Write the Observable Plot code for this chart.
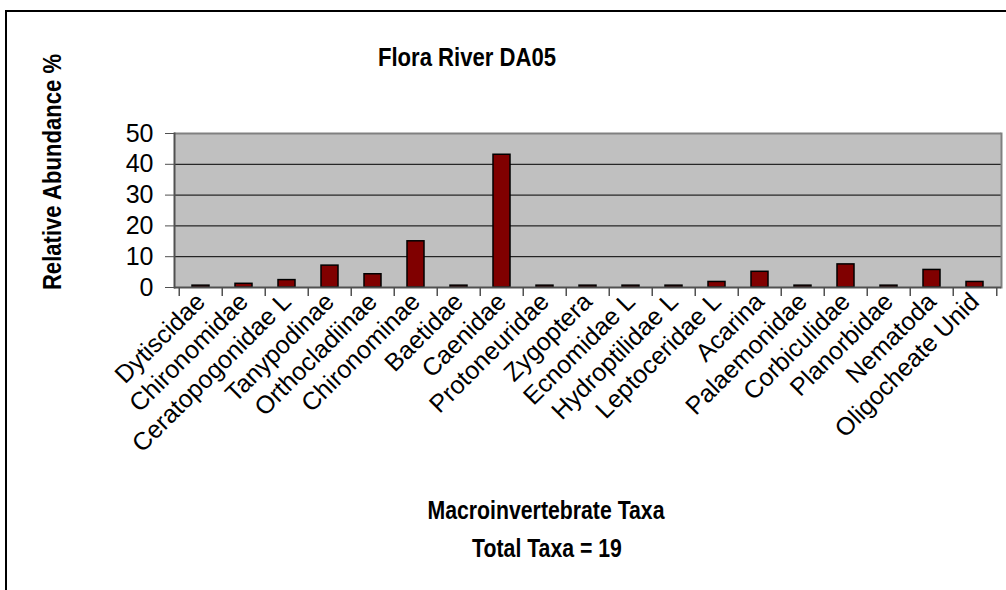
<!DOCTYPE html>
<html>
<head>
<meta charset="utf-8">
<script src="https://cdn.jsdelivr.net/npm/d3@7"></script>
<script src="https://cdn.jsdelivr.net/npm/@observablehq/plot@0.6"></script>
<style>
  html, body { margin: 0; padding: 0; background: #fff; overflow: hidden; }
  #wrap { position: relative; width: 1006px; height: 590px; overflow: hidden; font-family: "Liberation Sans", Arial, sans-serif; }
  #border { position: absolute; left: 5px; top: 10px; width: 1200px; height: 800px; border: 2px solid #000; box-sizing: border-box; }
  #chart { position: absolute; left: 0; top: 0; }
  .t { position: absolute; font-weight: bold; color: #000; white-space: nowrap; transform: translate(-50%, -50%) scaleX(0.85); }
</style>
</head>
<body>
<div id="wrap">
  <div id="border"></div>
  <div id="chart"></div>
  <div class="t" id="title" style="left:467px; top:57px; font-size:26px;">Flora River DA05</div>
  <div class="t" id="ylab" style="left:52px; top:172px; font-size:26px; transform: translate(-50%, -50%) rotate(-90deg) scaleX(0.85);">Relative Abundance %</div>
  <div class="t" id="xlab1" style="left:546px; top:510px; font-size:25px;">Macroinvertebrate Taxa</div>
  <div class="t" id="xlab2" style="left:547px; top:548px; font-size:25px;">Total Taxa = 19</div>
</div>
<script>
const taxa = ["Dytiscidae","Chironomidae","Ceratopogonidae L","Tanypodinae","Orthocladiinae","Chironominae","Baetidae","Caenidae","Protoneuridae","Zygoptera","Ecnomidae L","Hydroptilidae L","Leptoceridae L","Acarina","Palaemonidae","Corbiculidae","Planorbidae","Nematoda","Oligocheate Unid"];
const abundance = [0.6,1.2,2.4,7.1,4.3,15.0,0.6,43.1,0.6,0.6,0.6,0.6,1.8,5.1,0.6,7.5,0.6,5.7,1.8];
const yTicks = [0,10,20,30,40,50];

const data = taxa.map((t, i) => ({taxon: t, value: abundance[i]}));

const W = 1006, H = 590;
const mL = 174, mR = 5, mT = 133, mB = 303;
const step = (W - mL - mR) / taxa.length;

const chart = Plot.plot({
  width: W, height: H,
  marginLeft: mL, marginRight: mR, marginTop: mT, marginBottom: mB,
  style: {fontFamily: "'Liberation Sans', Arial, sans-serif", color: "#000", background: "transparent"},
  x: {domain: taxa, paddingInner: 0.6, paddingOuter: 0.3, label: null},
  y: {domain: [0, 50], label: null},
  marks: [
    Plot.frame({fill: "#C0C0C0", stroke: null}),
    Plot.ruleY(yTicks.filter(d => d > 0 && d < 50), {stroke: "#000", strokeWidth: 1}),
    Plot.ruleY([50], {stroke: "#808080", strokeWidth: 2}),
    Plot.frame({anchor: "right", stroke: "#808080", strokeWidth: 2}),
    Plot.frame({anchor: "left", stroke: "#505050", strokeWidth: 2}),
    Plot.barY(data, {x: "taxon", y: "value", fill: "#800000", stroke: "#000", strokeWidth: 1.5}),
    Plot.ruleY([0], {stroke: "#505050", strokeWidth: 2}),
    Plot.ruleX(taxa, {x: d => d, dx: -step / 2, y1: 0, y2: -2.9, stroke: "#505050", strokeWidth: 1.5}),
    Plot.ruleX([taxa[taxa.length - 1]], {x: d => d, dx: step / 2, y1: 0, y2: -2.9, stroke: "#505050", strokeWidth: 1.5}),
    Plot.axisY({ticks: yTicks, tickSize: 9, tickPadding: 12, fontSize: 25, stroke: "#505050", label: null}),
    Plot.axisX({tickSize: 0, tickRotate: -45, tickPadding: 10, fontSize: 25, label: null})
  ]
});
document.getElementById("chart").appendChild(chart);
</script>
</body>
</html>
